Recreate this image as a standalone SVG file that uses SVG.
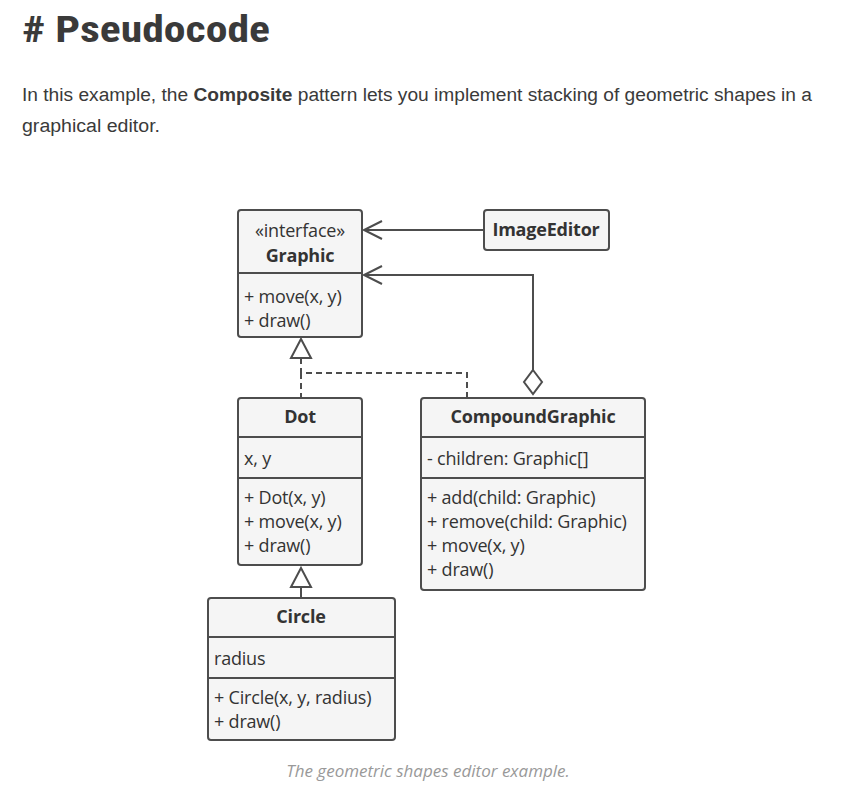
<svg xmlns="http://www.w3.org/2000/svg" width="850" height="810" viewBox="0 0 850 810">
<style>
.box{fill:#f5f5f5;stroke:#4d4d4d;stroke-width:2}
.div{stroke:#4d4d4d;stroke-width:2}
.t{font-family:"Open Sans","Noto Sans",sans-serif;font-size:18px;fill:#333;letter-spacing:-0.2px}
.b{font-weight:bold;text-anchor:middle}
.ln{fill:none;stroke:#4d4d4d;stroke-width:2}
.dash{fill:none;stroke:#4d4d4d;stroke-width:2;stroke-dasharray:6,4}
</style>
<rect width="850" height="810" fill="#fff"/>
<text x="22" y="42" font-family="'Liberation Sans Narrow','Roboto Condensed','Liberation Sans',sans-serif" font-weight="bold" font-size="36" fill="#3a3a3a" textLength="248" lengthAdjust="spacingAndGlyphs"># Pseudocode</text>
<text x="22" y="101" font-family="'Liberation Sans Narrow','Liberation Sans',sans-serif" font-size="18" fill="#3a3a3a" textLength="790" lengthAdjust="spacingAndGlyphs">In this example, the <tspan font-weight="bold">Composite</tspan> pattern lets you implement stacking of geometric shapes in a</text>
<text x="22" y="132" font-family="'Liberation Sans Narrow','Liberation Sans',sans-serif" font-size="18" fill="#3a3a3a" textLength="138" lengthAdjust="spacingAndGlyphs">graphical editor.</text>

<g id="connectors">
<line class="ln" x1="484" y1="230" x2="364" y2="230"/>
<polyline class="ln" points="382,221 364,230 382,239"/>
<polyline class="ln" points="533,370 533,275 364,275"/>
<polyline class="ln" points="382,266 364,275 382,284"/>
<polygon points="533,370 542,382 533,394 524,382" fill="#fff" stroke="#4d4d4d" stroke-width="2"/>
<polygon points="301,339 311,358 291,358" fill="#fff" stroke="#4d4d4d" stroke-width="2"/>
<polyline class="dash" points="301,358 301,373 467,373 467,398"/>
<line class="dash" x1="301" y1="373" x2="301" y2="398"/>
<polygon points="301,568 311,587 291,587" fill="#fff" stroke="#4d4d4d" stroke-width="2"/>
<line class="ln" x1="301" y1="587" x2="301" y2="598"/>
</g>

<g id="Graphic">
<rect class="box" x="238" y="210" width="124" height="127" rx="3"/>
<line class="div" x1="238" y1="273" x2="362" y2="273"/>
<text class="t" x="300" y="237" text-anchor="middle">«interface»</text>
<text class="t b" x="300" y="262">Graphic</text>
<text class="t" x="244" y="303">+ move(x, y)</text>
<text class="t" x="244" y="327">+ draw()</text>
</g>

<g id="ImageEditor">
<rect class="box" x="484" y="210" width="125" height="40" rx="3"/>
<text class="t b" x="546" y="236">ImageEditor</text>
</g>

<g id="Dot">
<rect class="box" x="238" y="398" width="124" height="167" rx="3"/>
<line class="div" x1="238" y1="437" x2="362" y2="437"/>
<line class="div" x1="238" y1="478" x2="362" y2="478"/>
<text class="t b" x="300" y="423">Dot</text>
<text class="t" x="244" y="465">x, y</text>
<text class="t" x="244" y="504">+ Dot(x, y)</text>
<text class="t" x="244" y="528">+ move(x, y)</text>
<text class="t" x="244" y="552">+ draw()</text>
</g>

<g id="CompoundGraphic">
<rect class="box" x="421" y="398" width="224" height="192" rx="3"/>
<line class="div" x1="421" y1="437" x2="645" y2="437"/>
<line class="div" x1="421" y1="478" x2="645" y2="478"/>
<text class="t b" x="533" y="423">CompoundGraphic</text>
<text class="t" x="427" y="465">- children: Graphic[]</text>
<text class="t" x="427" y="504">+ add(child: Graphic)</text>
<text class="t" x="427" y="528">+ remove(child: Graphic)</text>
<text class="t" x="427" y="552">+ move(x, y)</text>
<text class="t" x="427" y="576">+ draw()</text>
</g>

<g id="Circle">
<rect class="box" x="208" y="598" width="187" height="142" rx="3"/>
<line class="div" x1="208" y1="637" x2="395" y2="637"/>
<line class="div" x1="208" y1="678" x2="395" y2="678"/>
<text class="t b" x="301" y="623">Circle</text>
<text class="t" x="214" y="665">radius</text>
<text class="t" x="214" y="704">+ Circle(x, y, radius)</text>
<text class="t" x="214" y="728">+ draw()</text>
</g>

<text x="428" y="777" text-anchor="middle" font-family="'Open Sans','Noto Sans',sans-serif" font-style="italic" font-size="17" fill="#999">The geometric shapes editor example.</text>
</svg>
